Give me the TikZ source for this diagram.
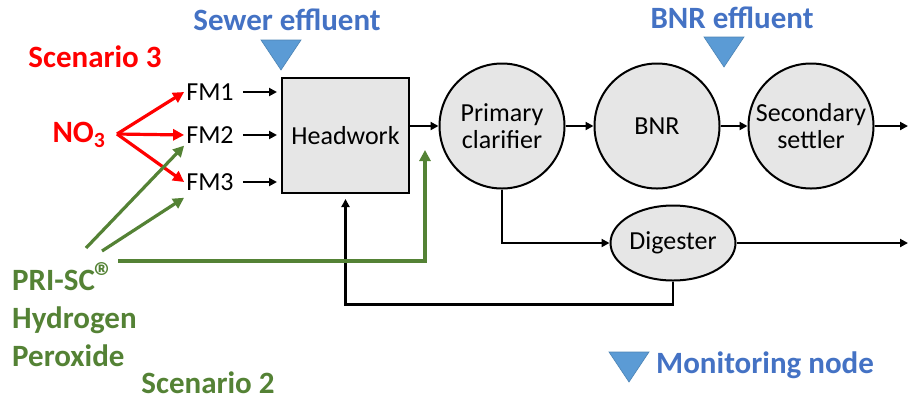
\documentclass[tikz,border=0pt]{standalone}
\usepackage{fontspec}
\setmainfont{Carlito}
\usepackage{tikz}
\usetikzlibrary{arrows.meta,shapes.geometric}

\definecolor{monblue}{HTML}{4472C4}
\definecolor{triblue}{HTML}{5B9BD5}
\definecolor{feedgreen}{HTML}{548235}
\definecolor{unitgray}{HTML}{E6E6E6}

\begin{document}
\begin{tikzpicture}[
    x=1pt, y=-1pt,
    unitbox/.style={draw, line width=2pt, fill=unitgray, font=\fontsize{26}{27}\selectfont, align=center},
    tank/.style={unitbox, circle, minimum size=125pt, inner sep=0pt},
    meter/.style={font=\fontsize{26}{30}\selectfont, inner sep=2pt},
    flow/.style={line width=2.6pt, -{Triangle[length=8pt,width=8pt]}},
    dose/.style={red, line width=3.2pt, -{Triangle[length=11pt,width=11pt]}},
    feed/.style={feedgreen, line width=3.2pt, -{Triangle[length=11pt,width=11pt]}},
    tagtext/.style={font=\fontsize{31}{38}\selectfont\bfseries, inner sep=1pt},
    monitor/.style={fill=triblue, draw=triblue!85!black, line width=0.6pt}
]
\useasboundingbox (0,0) rectangle (909,400);

% Treatment train
\node[unitbox, minimum width=127pt, minimum height=115pt] (hw) at (345.5,135.5) {Headwork};
\node[tank] (pc) at (502,126) {Primary\\clarifier};
\node[tank] (bnr) at (657,126) {BNR};
\node[tank] (ss) at (811,126) {Secondary\\settler};
\node[unitbox, ellipse, minimum width=125pt, minimum height=75pt, inner sep=0pt] (dig) at (673,243) {Digester};

% Flow meters
\node[meter] (fm1) at (210,92) {FM1};
\node[meter] (fm2) at (210,135) {FM2};
\node[meter] (fm3) at (210,182) {FM3};

% Chemical dosing
\node[tagtext, red] (sc3) at (95,57) {Scenario 3};
\node[tagtext, red] (no3) at (79,135) {NO\textsubscript{3}};
\node[tagtext, feedgreen, align=left, anchor=north west, inner sep=0pt] (pri) at (12,262) {PRI-SC{\fontsize{40}{40}\selectfont ®}\\Hydrogen\\Peroxide};
\node[tagtext, feedgreen] (sc2) at (208,383) {Scenario 2};

% Monitoring
\node[tagtext, monblue] (sewer) at (287,20) {Sewer effluent};
\node[tagtext, monblue] (bnreff) at (732,18) {BNR effluent};
\node[tagtext, monblue, anchor=west] (legend) at (655,365) {Monitoring node};
\foreach \tx/\ty in {281/40, 724/37, 629/352}
    \draw[monitor] (\tx-20,\ty) -- (\tx+20,\ty) -- (\tx,\ty+30) -- cycle;

% Free ends
\coordinate (fork) at (117,134);
\coordinate (g1) at (86,248);
\coordinate (g2) at (102,251);
\coordinate (g3) at (118,261);
\coordinate (gin) at (425,150);
\coordinate (out1) at (908,126);
\coordinate (out2) at (908,243);

% Main flows
\foreach \m in {fm1,fm2,fm3}
    \draw[flow, shorten <=7pt, shorten >=4pt] (\m.east) -- (hw.west |- \m.east);
\draw[flow] (hw.east |- pc.west) -- (pc.west);
\draw[flow] (pc.east) -- (bnr.west);
\draw[flow] (bnr.east) -- (ss.west);
\draw[flow] (ss.east) -- (out1);
\draw[flow] (pc.south) |- (dig.west);
\draw[flow] (dig.east) -- (out2);
\draw[flow, shorten >=5pt] (dig.south) -- ++(0,23) -| (hw.south);

% Dosing arrows
\foreach \m in {fm1,fm2,fm3}
    \draw[dose] (fork) -- (\m.west);
\draw[feed] (g1) -- (fm2.south west);
\draw[feed] (g2) -- ([yshift=-5pt]fm3.south west);
\draw[feed] (g3) -| (gin);

\end{tikzpicture}
\end{document}
